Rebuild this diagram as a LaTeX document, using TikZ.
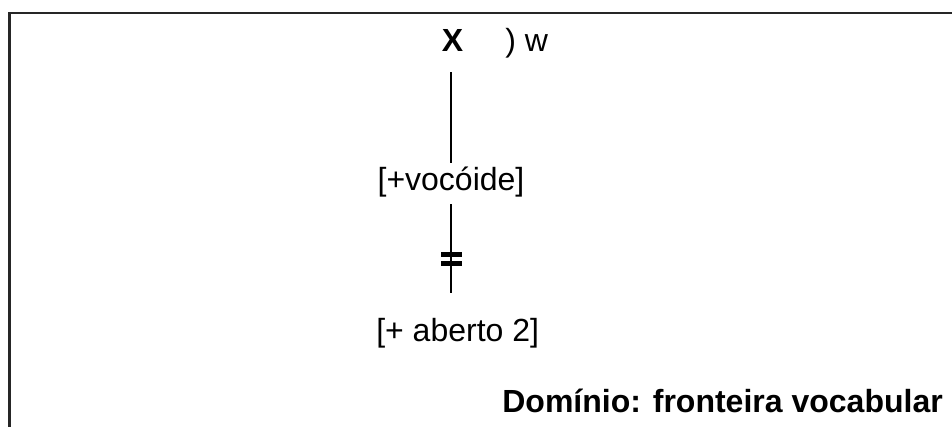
\documentclass[tikz,border=0pt]{standalone}
\usepackage{fontspec}
\setmainfont{Liberation Sans}
\begin{document}
\begin{tikzpicture}[x=0.75pt,y=-0.75pt,
  txt/.style={inner sep=0pt,text height=18pt,text depth=5pt,font=\fontsize{24}{28}\selectfont},
  conn/.style={line width=1.4pt,black}]
\useasboundingbox (0,0) rectangle (952,427);
\draw[line width=1.6pt,black!85] (952,13) -- (9.5,13) -- (9.5,427);
\node[txt,anchor=base] (X) at (452.5,52) {\textbf{X}};
\node[txt,anchor=base west] (w) at (505,52) {) w};
\node[txt,anchor=base] (voc) at (451,191) {[+vocóide]};
\node[txt,anchor=base west] (ab) at (376,341) {[+ aberto 2]};
\node[txt,anchor=base east] (dom) at (943,412) {\textbf{Domínio: fronteira vocabular}};
\draw[conn,shorten <=9.9pt,shorten >=3pt] (X.south -| voc.south) -- (voc.north);
\draw[conn,shorten <=4.7pt,shorten >=18pt] (voc.south) -- (voc.south |- ab.north);
\fill (441,252) rectangle (462,257);
\fill (441,261) rectangle (462,266);
\end{tikzpicture}
\end{document}
